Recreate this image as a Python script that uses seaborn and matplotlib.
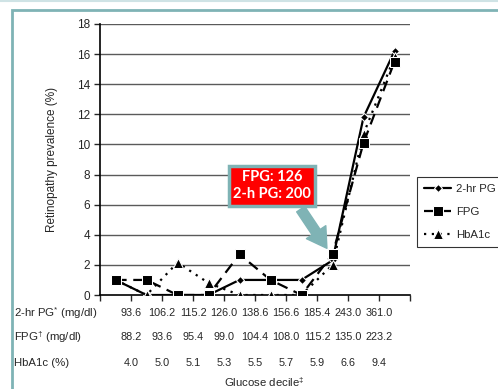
import numpy as np
import pandas as pd
import matplotlib
matplotlib.use("Agg")
import matplotlib.pyplot as plt
import matplotlib.transforms as mtransforms
from matplotlib.patches import Rectangle
from matplotlib.lines import Line2D
import seaborn as sns

# retinopathy prevalence (%) by glucose decile
deciles = list(range(1, 11))
pg2hr = [1.0, 0.0, 0.0, 0.0, 1.0, 1.0, 1.0, 2.3, 11.8, 16.2]
fpg = [1.0, 1.0, 0.0, 0.0, 2.7, 1.0, 0.0, 2.7, 10.1, 15.5]
hba1c = [1.0, 0.0, 2.15, 0.8, 0.0, 0.0, 0.0, 2.0, 10.7, 15.8]

# decile cut points shown under the axis
pg2hr_cuts = ["93.6", "106.2", "115.2", "126.0", "138.6", "156.6", "185.4", "243.0", "361.0"]
fpg_cuts = ["88.2", "93.6", "95.4", "99.0", "104.4", "108.0", "115.2", "135.0", "223.2"]
hba1c_cuts = ["4.0", "5.0", "5.1", "5.3", "5.5", "5.7", "5.9", "6.6", "9.4"]
row_labels = ["2-hr PG$^{*}$ (mg/dl)", "FPG$^{\\dagger}$ (mg/dl)", "HbA1c (%)"]

sns.set_style("white")
plt.rcParams['font.family'] = ['Liberation Sans', 'DejaVu Sans']
plt.rcParams['mathtext.fontset'] = 'custom'
plt.rcParams['mathtext.rm'] = 'Liberation Sans'
plt.rcParams['mathtext.it'] = 'Liberation Sans'

W, H = 498, 389
fig = plt.figure(figsize=(W / 100, H / 100), dpi=100)
ax = fig.add_axes([100 / W, 1 - 295 / H, 310 / W, 271 / H])

df = pd.DataFrame({"decile": deciles, "pg": pg2hr, "fpg": fpg, "hb": hba1c})

sns.lineplot(data=df, x="decile", y="pg", ax=ax, color="black", marker="D",
             markersize=4.5, linewidth=1.6, linestyle="-", label="2-hr PG", zorder=3)
sns.lineplot(data=df, x="decile", y="hb", ax=ax, color="black", marker="^",
             markersize=7, linewidth=1.6, linestyle=(0, (1, 2.5)), label="HbA1c", zorder=4)
sns.lineplot(data=df, x="decile", y="fpg", ax=ax, color="black", marker="s",
             markersize=7, linewidth=1.6, linestyle=(0, (5, 3)), label="FPG", zorder=5)

ax.set_xlim(0.5, 10.5)
ax.set_ylim(0, 18)
ax.set_yticks(np.arange(0, 19, 2))
ax.set_xticks(np.arange(0.5, 11, 1))
ax.set_xticklabels([])
ax.set_xlabel("")
ax.set_ylabel("Retinopathy prevalence (%)", fontsize=8.5, labelpad=14)
ax.tick_params(axis="y", labelsize=8.5, length=4, width=1, direction="out", left=True, pad=3)
ax.tick_params(axis="x", length=4, width=1, direction="out", bottom=True)
for v in range(2, 19, 2):
    ax.axhline(v, color="#5a5a5a", linewidth=1.0, zorder=1)
for side in ["top", "right"]:
    ax.spines[side].set_visible(False)
for side in ["left", "bottom"]:
    ax.spines[side].set_color("black")
    ax.spines[side].set_linewidth(1.2)

# legend in the original order
handles, labels = ax.get_legend_handles_labels()
order = [labels.index(n) for n in ["2-hr PG", "FPG", "HbA1c"]]
leg = fig.legend([handles[i] for i in order], [labels[i] for i in order],
                 loc="upper left", bbox_to_anchor=(417 / W, 1 - 177 / H),
                 frameon=True, fancybox=False, fontsize=8.2, handlelength=2.4,
                 borderpad=0.6, labelspacing=1.15, handletextpad=0.4, borderaxespad=0)
leg.get_frame().set_edgecolor("black")
leg.get_frame().set_linewidth(0.8)
ax.get_legend().remove()

# table of cut points below the axis
trans = mtransforms.blended_transform_factory(ax.transData, fig.transFigure)
rows = [(313, pg2hr_cuts), (337, fpg_cuts), (363, hba1c_cuts)]
for (ypix, cuts), lab in zip(rows, row_labels):
    fig.text(14 / W, 1 - ypix / H, lab, fontsize=8.2, va="center", ha="left")
    for i, c in enumerate(cuts):
        ax.text(i + 1.5, 1 - ypix / H, c, transform=trans, fontsize=7.8,
                ha="center", va="center")
fig.text(264 / W, 1 - 382 / H, "Glucose decile$^{\\ddagger}$", fontsize=8.2,
         ha="center", va="center")

# callout
ax.annotate("FPG: 126\n2-h PG: 200", xy=(7.82, 3.1), xytext=(6.05, 7.25),
            fontsize=10.5, fontweight="bold", color="white", ha="center", va="center",
            family="Lato", linespacing=1.25,
            bbox=dict(boxstyle="square,pad=0.3", fc="#ff0000", ec="#7fb3b5", lw=2.5),
            arrowprops=dict(arrowstyle="simple,head_width=1.2,head_length=1.0,tail_width=0.5",
                            fc="#7fb3b5", ec="#7fb3b5", mutation_scale=14,
                            relpos=(0.8, 0.0), shrinkB=0),
            zorder=6)

# slide frame
fig.add_artist(Line2D([0, 1], [1 - 1 / H, 1 - 1 / H], transform=fig.transFigure,
                      color="#cfe3e5", linewidth=1.5))
fig.add_artist(Rectangle((12 / W, -0.1), 1.2, 1 - 10 / H + 0.1, transform=fig.transFigure,
                         fill=False, edgecolor="#7fb3b5", linewidth=2.0))

fig.savefig("out.png", dpi=100)
